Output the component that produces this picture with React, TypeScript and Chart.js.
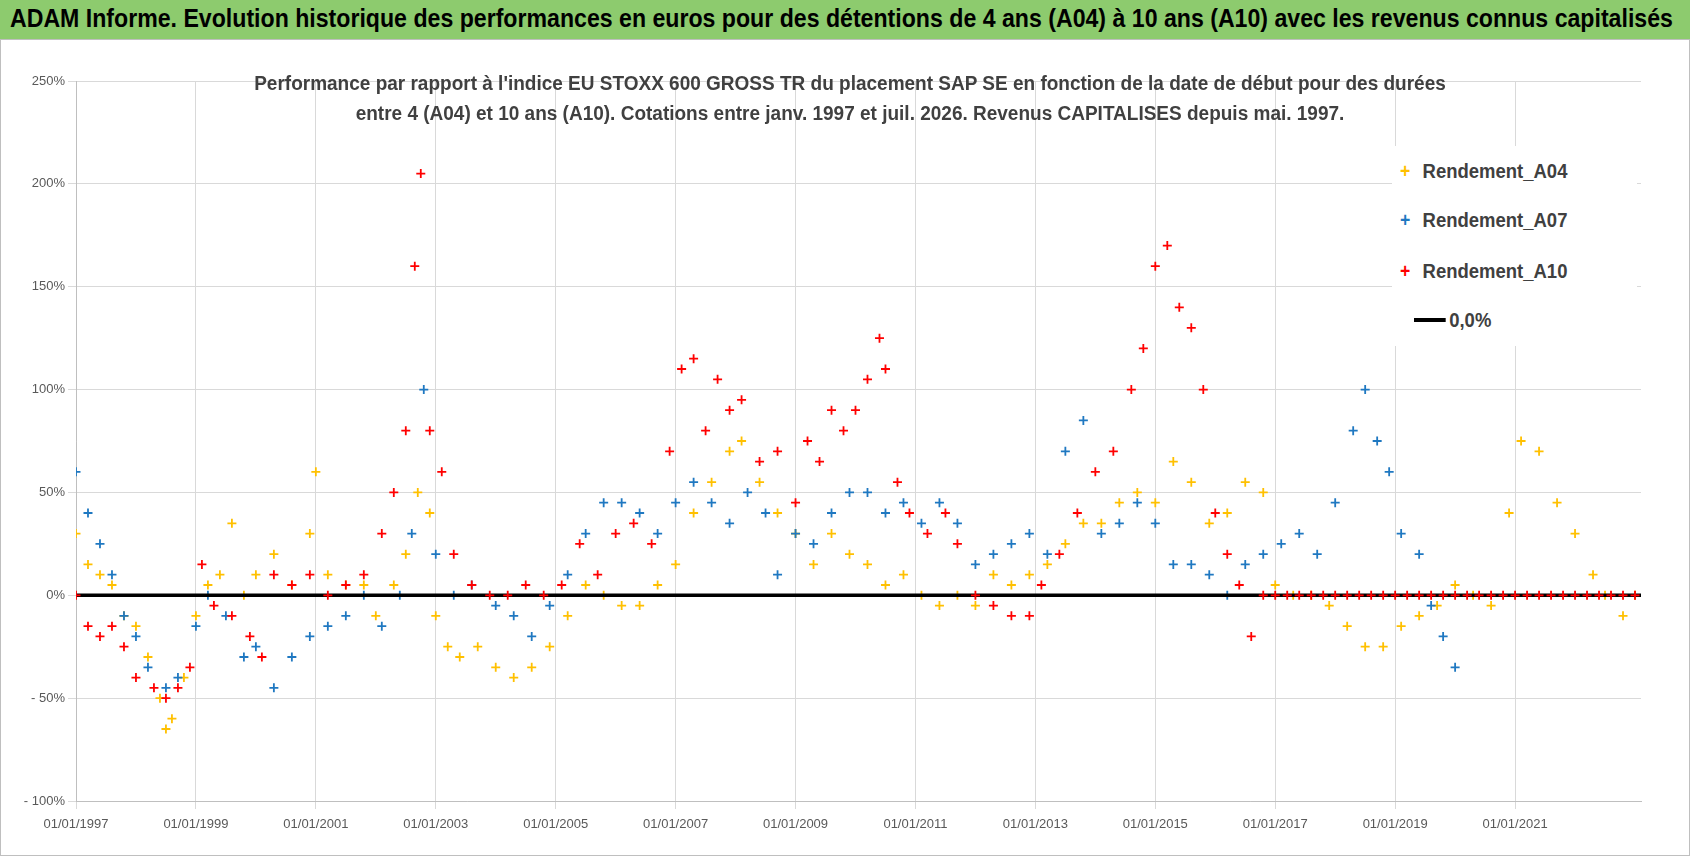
import React, { useEffect, useRef } from "react";
import { Chart, registerables } from "chart.js";
Chart.register(...registerables);

const TITLE = "ADAM Informe. Evolution historique des performances en euros pour des détentions de 4 ans (A04) à 10 ans (A10) avec les revenus connus capitalisés";
const SUB1 = "Performance par rapport à l'indice EU STOXX 600 GROSS TR  du placement SAP SE en fonction de la date de début pour des durées";
const SUB2 = "entre 4 (A04) et 10 ans (A10).  Cotations entre janv. 1997 et juil. 2026. Revenus CAPITALISES depuis mai. 1997.";

const xTicks = [1997, 1999, 2001, 2003, 2005, 2007, 2009, 2011, 2013, 2015, 2017, 2019, 2021];
const yTicks = [250, 200, 150, 100, 50, 0, -50, -100];

const a04X = [1997.0,1997.2,1997.4,1997.6,1997.8,1998.0,1998.2,1998.4,1998.5,1998.6,1998.8,1999.0,1999.2,1999.4,1999.6,1999.8,2000.0,2000.3,2000.6,2000.9,2001.0,2001.2,2001.5,2001.8,2002.0,2002.3,2002.5,2002.7,2002.9,2003.0,2003.2,2003.4,2003.7,2004.0,2004.3,2004.6,2004.9,2005.2,2005.5,2005.8,2006.1,2006.4,2006.7,2007.0,2007.3,2007.6,2007.9,2008.1,2008.4,2008.7,2009.0,2009.3,2009.6,2009.9,2010.2,2010.5,2010.8,2011.1,2011.4,2011.7,2012.0,2012.3,2012.6,2012.9,2013.2,2013.5,2013.8,2014.1,2014.4,2014.7,2015.0,2015.3,2015.6,2015.9,2016.2,2016.5,2016.8,2017.0,2017.3,2017.6,2017.9,2018.2,2018.5,2018.8,2019.1,2019.4,2019.7,2020.0,2020.3,2020.6,2020.9,2021.1,2021.4,2021.7,2022.0,2022.3,2022.5,2022.8,2023.0];
const a04Y = [30,15,10,5,-10,-15,-30,-50,-65,-60,-40,-10,5,10,35,0,10,20,5,30,60,10,5,5,-10,5,20,50,40,-10,-25,-30,-25,-35,-40,-35,-25,-10,5,0,-5,-5,5,15,40,55,70,75,55,40,30,15,30,20,15,5,10,0,-5,0,-5,10,5,10,15,25,35,35,45,50,45,65,55,35,40,55,50,5,0,0,-5,-15,-25,-25,-15,-10,-5,5,0,-5,40,75,70,45,30,10,0,-10,0];

const a07X = [1997.0,1997.2,1997.4,1997.6,1997.8,1998.0,1998.2,1998.5,1998.7,1999.0,1999.2,1999.5,1999.8,2000.0,2000.3,2000.6,2000.9,2001.2,2001.5,2001.8,2002.1,2002.4,2002.6,2002.8,2003.0,2003.3,2003.6,2004.0,2004.3,2004.6,2004.9,2005.2,2005.5,2005.8,2006.1,2006.4,2006.7,2007.0,2007.3,2007.6,2007.9,2008.2,2008.5,2008.7,2009.0,2009.3,2009.6,2009.9,2010.2,2010.5,2010.8,2011.1,2011.4,2011.7,2012.0,2012.3,2012.6,2012.9,2013.2,2013.5,2013.8,2014.1,2014.4,2014.7,2015.0,2015.3,2015.6,2015.9,2016.2,2016.5,2016.8,2017.1,2017.4,2017.7,2018.0,2018.3,2018.5,2018.7,2018.9,2019.1,2019.4,2019.6,2019.8,2020.0];
const a07Y = [60,40,25,10,-10,-20,-35,-45,-40,-15,0,-10,-30,-25,-45,-30,-20,-15,-10,0,-15,0,30,100,20,0,5,-5,-10,-20,-5,10,30,45,45,40,30,45,55,45,35,50,40,10,30,25,40,50,50,40,45,35,45,35,15,20,25,30,20,70,85,30,35,45,35,15,15,10,0,15,20,25,30,20,45,80,100,75,60,30,20,-5,-20,-35];

const a10X = [1997.0,1997.2,1997.4,1997.6,1997.8,1998.0,1998.3,1998.5,1998.7,1998.9,1999.1,1999.3,1999.6,1999.9,2000.1,2000.3,2000.6,2000.9,2001.2,2001.5,2001.8,2002.1,2002.3,2002.5,2002.65,2002.75,2002.9,2003.1,2003.3,2003.6,2003.9,2004.2,2004.5,2004.8,2005.1,2005.4,2005.7,2006.0,2006.3,2006.6,2006.9,2007.1,2007.3,2007.5,2007.7,2007.9,2008.1,2008.4,2008.7,2009.0,2009.2,2009.4,2009.6,2009.8,2010.0,2010.2,2010.4,2010.5,2010.7,2010.9,2011.2,2011.5,2011.7,2012.0,2012.3,2012.6,2012.9,2013.1,2013.4,2013.7,2014.0,2014.3,2014.6,2014.8,2015.0,2015.2,2015.4,2015.6,2015.8,2016.0,2016.2,2016.4,2016.6,2016.8,2017.0,2017.2,2017.4,2017.6,2017.8,2018.0,2018.2,2018.4,2018.6,2018.8,2019.0,2019.2,2019.4,2019.6,2019.8,2020.0,2020.2,2020.4,2020.6,2020.8,2021.0,2021.2,2021.4,2021.6,2021.8,2022.0,2022.2,2022.4,2022.6,2022.8,2023.0];
const a10Y = [0,-15,-20,-15,-25,-40,-45,-50,-45,-35,15,-5,-10,-20,-30,10,5,10,0,5,10,30,50,80,160,205,80,60,20,5,0,0,5,0,5,25,10,30,35,25,70,110,115,80,105,90,95,65,70,45,75,65,90,80,90,105,125,110,55,40,30,40,25,0,-5,-10,-10,5,20,40,60,70,100,120,160,170,140,130,100,40,20,5,-20,0,0,0,0,0,0,0,0,0,0,0,0,0,0,0,0,0,0,0,0,0,0,0,0,0,0,0,0,0,0,0,0];

const zeroX = [1997, 2023.1];
const zeroY = [0, 0];

const pts = (xs: number[], ys: number[]) => xs.map((x, i) => ({ x, y: ys[i] }));

export default function App() {
  const ref = useRef<HTMLCanvasElement>(null);
  useEffect(() => {
    const pt = { pointStyle: "cross" as const, pointRadius: 4.5, pointBorderWidth: 1.8, showLine: false };
    const chart = new Chart(ref.current!, {
      type: "scatter",
      data: {
        datasets: [
          { label: "Rendement_A10", data: pts(a10X, a10Y), borderColor: "#FF0000", backgroundColor: "#FF0000", ...pt, order: 1 },
          { label: "0,0%", data: pts(zeroX, zeroY), borderColor: "#000", backgroundColor: "#000", showLine: true, borderWidth: 3.5, pointRadius: 0, order: 2 },
          { label: "Rendement_A07", data: pts(a07X, a07Y), borderColor: "#1F78C1", backgroundColor: "#1F78C1", ...pt, order: 3 },
          { label: "Rendement_A04", data: pts(a04X, a04Y), borderColor: "#FFC000", backgroundColor: "#FFC000", ...pt, order: 4 },
        ],
      },
      options: {
        animation: false,
        responsive: false,
        layout: { padding: { top: 42, right: 57, left: 0, bottom: 0 } },
        plugins: { legend: { display: false }, tooltip: { enabled: false } },
        scales: {
          x: {
            type: "linear", min: 1997, max: 2023.1,
            afterBuildTicks: (s: any) => { s.ticks = xTicks.map((v) => ({ value: v })); },
            afterFit: (s: any) => { s.height = 36; },
            ticks: { color: "#595959", font: { family: "Liberation Sans", size: 13 }, maxRotation: 0, padding: 8, callback: (v: any) => "01/01/" + v },
            grid: { color: "#d9d9d9" },
            border: { color: "#bfbfbf" },
          },
          y: {
            min: -100, max: 250,
            afterBuildTicks: (s: any) => { s.ticks = yTicks.map((v) => ({ value: v })); },
            afterFit: (s: any) => { s.width = 76; },
            ticks: { color: "#595959", font: { family: "Liberation Sans", size: 13 }, callback: (v: any) => (v < 0 ? "- " + -v : v) + "%" },
            grid: { color: "#d9d9d9" },
            border: { color: "#bfbfbf" },
          },
        },
      },
    });
    return () => chart.destroy();
  }, []);
  const font = "'Liberation Sans', sans-serif";
  const legend = [
    { c: "#FFC000", t: "Rendement_A04", y: 173 },
    { c: "#1F78C1", t: "Rendement_A07", y: 222 },
    { c: "#FF0000", t: "Rendement_A10", y: 273 },
  ];
  return (
    <div style={{ position: "absolute", left: 0, top: 0, width: 1698, height: 856, background: "#fff", overflow: "hidden", fontFamily: font }}>
      <div style={{ position: "absolute", left: 0, top: 0, width: 1690, height: 39, background: "#8DCB6E" }}>
        <div style={{ position: "absolute", left: 10, top: 4, fontWeight: "bold", fontSize: 25, color: "#000", whiteSpace: "nowrap", transform: "scaleX(0.925)", transformOrigin: "left center" }}>{TITLE}</div>
      </div>
      <div style={{ position: "absolute", left: 0, top: 39, width: 1690, height: 817, border: "1px solid #bfbfbf", boxSizing: "border-box" }} />
      <canvas ref={ref} width={1698} height={798} style={{ position: "absolute", left: 0, top: 39 }} />
      <div style={{ position: "absolute", left: 850, top: 68, fontWeight: "bold", fontSize: 20, color: "#404040", lineHeight: "30px", whiteSpace: "nowrap", textAlign: "center", transform: "translateX(-50%) scaleX(0.95)" }}>
        <div>{SUB1}</div><div>{SUB2}</div>
      </div>
      <div style={{ position: "absolute", left: 1392, top: 146, width: 245, height: 200, background: "#fff" }}>
        {legend.map((l) => (
          <div key={l.t} style={{ position: "absolute", left: 8, top: l.y - 146 - 14, fontSize: 21, fontWeight: "bold", color: "#404040", whiteSpace: "nowrap", transform: "scaleX(0.88)", transformOrigin: "left center" }}>
            <span style={{ color: l.c, fontSize: 20, marginRight: 14 }}>+</span>{l.t}
          </div>
        ))}
        <div style={{ position: "absolute", left: 22, top: 322 - 146 - 14, fontSize: 21, fontWeight: "bold", color: "#404040", display: "flex", alignItems: "center", transform: "scaleX(0.88)", transformOrigin: "left center" }}>
          <span style={{ display: "inline-block", width: 36, height: 4, background: "#000", marginRight: 4 }} />0,0%
        </div>
      </div>
    </div>
  );
}
